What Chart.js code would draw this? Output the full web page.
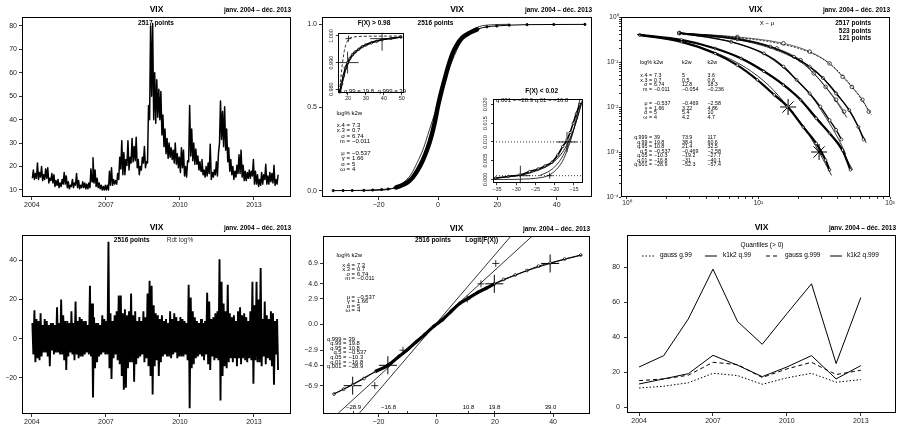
<!DOCTYPE html>
<html>
<head>
<meta charset="utf-8">
<script src="https://cdn.jsdelivr.net/npm/chart.js@4.4.1/dist/chart.umd.min.js"></script>
<style>
  body { margin: 0; background: #fff; }
  #wrap { position: relative; width: 899px; height: 426px; overflow: hidden; background: #fff; }
  #wrap canvas { position: absolute; }
</style>
</head>
<body>
<div id="wrap">
  <canvas id="c1" width="300" height="213" style="left:0px;top:0px"></canvas>
  <canvas id="c2" width="300" height="213" style="left:300px;top:0px"></canvas>
  <canvas id="ia" width="92" height="86" style="left:325px;top:20px"></canvas>
  <canvas id="ib" width="114" height="106" style="left:480px;top:88px"></canvas>
  <canvas id="c3" width="299" height="213" style="left:600px;top:0px"></canvas>
  <canvas id="c4" width="300" height="213" style="left:0px;top:213px"></canvas>
  <canvas id="c5" width="300" height="213" style="left:300px;top:213px"></canvas>
  <canvas id="c6" width="299" height="213" style="left:600px;top:213px"></canvas>
</div>
<script>
// ---------- data ----------
// VIX, monthly low / high, jan 2004 .. dec 2013
const vixLow = [
  15.0, 14.5, 15.0, 14.5, 15.5, 14.0, 14.5, 15.0, 13.0, 14.0, 13.0, 11.5,
  12.0, 11.0, 11.5, 12.5, 12.5, 11.0, 10.5, 11.5, 11.0, 12.0, 11.0, 10.5,
  11.0, 11.0, 10.5, 10.5, 11.0, 13.5, 13.0, 11.5, 11.0, 10.5, 10.0, 10.0,
  10.0, 10.0, 12.0, 12.0, 12.5, 12.5, 14.5, 19.0, 16.5, 16.5, 20.5, 18.5,
  21.5, 22.0, 22.5, 19.5, 16.5, 18.5, 21.5, 19.5, 21.5, 40.0, 50.0, 40.0,
  38.5, 41.0, 40.0, 33.5, 28.5, 25.5, 23.5, 24.0, 23.0, 21.5, 21.0, 19.5,
  17.5, 19.5, 16.0, 15.5, 22.0, 24.5, 22.5, 21.0, 21.0, 18.5, 18.0, 16.5,
  15.5, 16.0, 17.0, 14.5, 15.5, 16.5, 16.0, 30.0, 31.5, 28.5, 27.0, 22.0,
  18.0, 16.5, 14.5, 15.5, 17.0, 17.0, 15.5, 14.0, 14.0, 15.0, 15.0, 16.0,
  12.5, 12.5, 11.5, 12.0, 12.5, 14.5, 12.5, 12.5, 13.5, 13.0, 12.0, 12.5
];
const vixHigh = [
  18.5, 17.0, 21.5, 17.5, 20.0, 16.5, 19.0, 19.5, 15.0, 17.0, 16.5, 14.0,
  14.5, 13.0, 14.5, 17.5, 16.0, 13.5, 12.0, 14.5, 13.0, 17.0, 14.0, 12.0,
  13.5, 13.0, 12.5, 13.0, 19.0, 23.8, 18.5, 15.0, 13.0, 12.0, 11.5, 12.0,
  12.0, 18.0, 19.5, 14.5, 14.0, 17.0, 24.0, 31.0, 26.0, 23.0, 31.0, 24.0,
  32.0, 28.5, 32.5, 23.0, 20.0, 24.0, 28.5, 22.0, 46.0, 80.0, 81.0, 60.0,
  57.0, 53.0, 52.0, 42.0, 36.0, 32.0, 30.0, 28.0, 27.0, 30.0, 25.5, 24.0,
  28.0, 27.0, 20.0, 22.5, 46.0, 36.0, 30.0, 27.5, 24.5, 22.0, 23.0, 18.5,
  20.0, 21.5, 29.5, 17.5, 18.5, 22.0, 25.5, 48.0, 43.5, 45.5, 36.0, 28.0,
  23.0, 20.0, 18.0, 20.5, 25.0, 27.0, 20.5, 18.0, 17.5, 18.5, 18.0, 23.0,
  18.0, 16.5, 14.5, 17.5, 16.5, 21.0, 16.0, 17.5, 17.0, 20.5, 14.5, 16.5
];
// daily log returns (%), monthly high / low
const retHigh = [
  8, 14.5, 10, 9, 13, 7, 10, 9, 7, 8, 8, 7,
  16, 8, 20, 12, 9, 9, 8, 14, 8, 19, 9, 11,
  10, 9, 9, 7, 27, 18, 11, 8, 8, 7, 12, 10,
  9, 49.5, 13, 9, 12, 14, 22, 22, 13, 15, 12, 14,
  23, 12, 14, 9, 11, 9, 14, 11, 23, 29.5, 27, 17,
  13, 12, 10, 12, 9, 10, 8, 14, 10, 13, 11, 9,
  11, 10, 9, 8, 27.5, 21, 14, 11, 9, 8, 10, 8,
  9, 23.5, 19, 10, 11, 13, 14, 40.5, 29, 18, 14, 27.5,
  13, 11, 12, 9, 14, 16, 12, 13, 11, 9, 14, 29,
  17, 29, 20, 36, 10, 19, 12, 10, 14, 13, 9, 10
];
const retLow = [
  -8, -12, -10, -11, -9, -7, -7, -9, -14, -6, -8, -7,
  -7, -8, -8, -11, -16, -9, -7, -8, -11, -8, -10, -9,
  -9, -8, -7, -8, -9, -30, -15, -12, -9, -8, -7, -8,
  -8, -15, -20.5, -10, -8, -11, -13, -19, -26, -25, -15, -12,
  -12, -22, -13, -10, -9, -8, -12, -10, -14, -19, -28.5, -14,
  -11, -19, -12, -9, -8, -9, -9, -10, -8, -7, -10, -9,
  -9, -9, -8, -11, -35.5, -15, -13, -10, -9, -8, -9, -11,
  -8, -13, -16, -9, -11, -10, -11, -31.5, -19, -14, -15, -12,
  -10, -12, -10, -14, -10, -13, -10, -11, -12, -10, -11, -23,
  -11, -12, -12, -14, -9, -13, -10, -11, -14, -23.5, -8, -16
];

// distribution function (top middle)
const cdfEmpX = [-35.3, -32, -28.9, -25, -22, -19, -16.8, -14.5, -12.5, -10.3, -8.5, -6.8, -5.2, -3.6, -2.2, -1.1, 0, 1.2, 2.4, 3.5, 4.8, 6.3, 8.2, 10.8, 13.5, 16.5, 19.8, 24, 30, 39, 49.5];
const cdfEmpF = [0.0004, 0.0008, 0.001, 0.002, 0.004, 0.007, 0.01, 0.017, 0.03, 0.05, 0.08, 0.125, 0.18, 0.25, 0.33, 0.41, 0.51, 0.6, 0.68, 0.75, 0.82, 0.875, 0.92, 0.95, 0.972, 0.985, 0.99, 0.995, 0.998, 0.999, 0.9996];
const cdfGaussX = [-26, -20, -16, -13, -11, -9, -7, -5, -3, -1, 1, 3, 5, 7, 9, 11, 14, 18, 24];
const cdfGaussF = [0.0001, 0.002, 0.01, 0.03, 0.06, 0.1, 0.17, 0.25, 0.36, 0.47, 0.59, 0.7, 0.79, 0.87, 0.93, 0.96, 0.987, 0.997, 0.9999];
// upper tail inset
const upEmpX = [15.5, 16.5, 17.5, 18.5, 19.8, 21, 22.5, 24, 26, 28, 30, 33, 36, 39, 44, 49.5];
const upEmpF = [0.979, 0.982, 0.985, 0.988, 0.990, 0.9915, 0.993, 0.994, 0.995, 0.996, 0.9966, 0.9974, 0.998, 0.9986, 0.9991, 0.9996];
const upFitX = [15, 17, 19, 21, 24, 28, 32, 38, 44, 50];
const upFitF = [0.978, 0.984, 0.9885, 0.9915, 0.994, 0.9962, 0.9975, 0.9986, 0.9992, 0.9996];
const upFit2F = [0.976, 0.9825, 0.9875, 0.9908, 0.9936, 0.9958, 0.9972, 0.9984, 0.9991, 0.9995];
const upGaussX = [15, 16, 17, 18, 19, 20, 21, 23, 26, 30, 40, 50];
const upGaussF = [0.977, 0.984, 0.990, 0.9945, 0.997, 0.9985, 0.9992, 0.9996, 0.9998, 0.9999, 0.99995, 1.0];
// lower tail inset
const loEmpX = [-35.3, -32, -29, -26.5, -24.3, -22.5, -20.7, -19.2, -17.9, -16.8, -16, -15.2, -14.4, -13.5];
const loEmpF = [0.0004, 0.0008, 0.0012, 0.0021, 0.0028, 0.0036, 0.0046, 0.0065, 0.0088, 0.0105, 0.0125, 0.015, 0.0175, 0.02];
const loFitX = [-36, -32, -28, -25, -22, -20, -18, -16.5, -15, -13.5, -12.8];
const loFitF = [0.0003, 0.0007, 0.0013, 0.0022, 0.0035, 0.0049, 0.0072, 0.0099, 0.0136, 0.0185, 0.0212];
const loFit2X = [-24, -21, -19, -17.5, -16, -15, -14, -13.2];
const loFit2F = [0.001, 0.0025, 0.0045, 0.007, 0.0105, 0.0135, 0.017, 0.0205];
const loGaussX = [-36, -32, -28, -25, -22, -20, -18, -16.5, -15, -14, -13];
const loGaussF = [0, 0, 0.0001, 0.0003, 0.0009, 0.0022, 0.0048, 0.0085, 0.0135, 0.0185, 0.024];

// tails in log-log (top right): |X - mu| and survival probability
const dayNegX = [1.25, 2.6, 4.7, 6.9, 9.8, 13.2, 16.6, 21.9, 27.5, 32.4, 34.7];
const dayNegY = [0.4, 0.28, 0.155, 0.085, 0.04, 0.0186, 0.0102, 0.0036, 0.00155, 0.00066, 0.0004];
const dayPosX = [1.25, 2.6, 4.7, 7.4, 11, 15.5, 20.9, 27.5, 34.7, 43.6, 50];
const dayPosY = [0.4, 0.31, 0.2, 0.12, 0.062, 0.031, 0.0145, 0.0056, 0.0026, 0.0011, 0.0004];
const weekPosX = [2.5, 6.9, 12.3, 18.6, 24.5, 30.9, 38.9, 49, 57.5, 63];
const weekPosY = [0.44, 0.32, 0.22, 0.13, 0.079, 0.044, 0.02, 0.0085, 0.0036, 0.0019];
const weekNegX = [2.5, 6.2, 11, 15.5, 19.5, 24.5, 29.5, 34.7, 38.9, 42.7];
const weekNegY = [0.44, 0.28, 0.155, 0.079, 0.04, 0.02, 0.0102, 0.0051, 0.0031, 0.0019];
const monthPosX = [2.5, 6.9, 15.5, 24.5, 34.7, 43.6, 51.3, 61.7, 69];
const monthPosY = [0.44, 0.36, 0.26, 0.17, 0.093, 0.047, 0.028, 0.0145, 0.0079];
const monthNegX = [2.5, 6.9, 13.8, 20.9, 26.3, 32.4, 38.9, 44.7];
const monthNegY = [0.44, 0.34, 0.2, 0.11, 0.056, 0.028, 0.0145, 0.0079];
const dayFitNegX = [1.2, 2.5, 5, 8, 12, 16.8, 22, 28.9, 36];
const dayFitNegY = [0.41, 0.29, 0.15, 0.075, 0.03, 0.01, 0.0037, 0.001, 0.0003];
const dayFitPosX = [1.2, 2.5, 5, 8, 12, 17, 24, 32, 42, 52];
const dayFitPosY = [0.41, 0.31, 0.19, 0.11, 0.055, 0.026, 0.0095, 0.0035, 0.0012, 0.0004];
const weekFitPosX = [2.5, 7, 12, 18, 25, 32, 40, 50, 60, 66];
const weekFitPosY = [0.43, 0.31, 0.21, 0.13, 0.075, 0.04, 0.019, 0.0075, 0.0028, 0.0016];
const weekFitNegX = [2.5, 6, 11, 15, 20, 25, 30, 36, 42, 46];
const weekFitNegY = [0.43, 0.29, 0.15, 0.08, 0.037, 0.018, 0.0085, 0.0036, 0.0016, 0.0009];
const monthFitPosX = [2.5, 7, 15, 25, 35, 45, 55, 65, 72];
const monthFitPosY = [0.44, 0.35, 0.25, 0.16, 0.09, 0.045, 0.022, 0.011, 0.0068];
const monthFitNegX = [2.5, 7, 14, 21, 27, 33, 40, 47];
const monthFitNegY = [0.44, 0.33, 0.19, 0.10, 0.052, 0.026, 0.012, 0.0058];

// logit of the distribution (bottom middle)
const logitEmpX = [-35.3, -32, -28.9, -25, -21, -16.8, -13, -10.3, -7, -4, -1, 2, 5, 8, 10.8, 14, 17, 19.8, 23, 27, 31, 35, 39, 44, 49.5];
const logitEmpY = [-7.84, -7.3, -6.8, -6.1, -5.3, -4.6, -3.6, -2.9, -1.95, -1.1, -0.2, 0.55, 1.5, 2.4, 2.95, 3.6, 4.1, 4.6, 5.1, 5.6, 6.1, 6.6, 6.95, 7.4, 7.85];
const logitFitX = [-35.5, -30, -25, -20, -16.8, -12, -8, -4, 0, 4, 8, 12, 16, 20, 25, 30, 35, 40, 45, 50];
const logitFitY = [-7.85, -6.95, -6.0, -5.1, -4.5, -3.4, -2.3, -1.15, 0.05, 1.2, 2.35, 3.3, 4.0, 4.6, 5.3, 5.95, 6.5, 7.0, 7.45, 7.85];
const gaussLineAX = [-34.5, 33.2];
const gaussLineAY = [-10.2, 10.1];
const gaussLineBX = [-27.1, 25.8];
const gaussLineBY = [-10.2, 10.1];

// yearly quantiles (bottom right)
const years = [2004, 2005, 2006, 2007, 2008, 2009, 2010, 2011, 2012, 2013];
const gaussQ99 = [11, 12, 14, 19.4, 18.1, 13.1, 16.8, 19.4, 14.3, 15.8];
const k1k2Q99 = [13.3, 16.2, 19.2, 29.7, 24, 17.5, 23, 29.5, 16.2, 23.8];
const gaussQ999 = [15.2, 16.2, 18.3, 25.7, 24.4, 17, 21.9, 25.7, 18.7, 21.1];
const k1k2Q999 = [23, 29.5, 50.5, 79, 49, 36, 53.5, 70.6, 25, 62.7];

// fitted parameters and quantiles (log% k2w, daily / weekly / monthly)
const topRows = ['x.4', 'x.3', 'σ', 'm'];
const midRows = ['μ', 'γ', 'α', 'ω'];
const qRows = ['q.999', 'q.99', 'q.95', 'q.5', 'q.05', 'q.01', 'q.001'];
const dayTop = ['7.3', '0.7', '6.74', '−0.011'];
const weekTop = ['5', '0.5', '12.8', '−0.054'];
const monthTop = ['3.6', '0.6', '18.3', '−0.236'];
const dayMid = ['−0.537', '1.66', '5', '4'];
const weekMid = ['−0.469', '3.22', '5.4', '4.2'];
const monthMid = ['−2.58', '4.86', '10', '4.7'];
const qDay = [39, 19.8, 10.8, -0.537, -10.3, -16.8, -28.9];
const qWeek = [73.9, 38.4, 21.4, -0.469, -19.2, -31, -52.3];
const qMonth = [117, 60.6, 32.5, -2.58, -27.7, -40.1, -57.4];
const qProb = [0.999, 0.99, 0.95, 0.5, 0.05, 0.01, 0.001];
const qLogit = [6.9, 4.6, 2.9, 0, -2.9, -4.6, -6.9];
const qGauss = [20.3, 15.2, 10.5, -0.54, -11.6, -16.2, -21.3];

// tick labels
const yearTicks = [2004, 2007, 2010, 2013];
const vixTicks = [10, 20, 30, 40, 50, 60, 70, 80];
const retTicks = [-20, 0, 20, 40];
const cdfXTicks = [-20, 0, 20, 40];
const cdfYTicks = [0, 0.5, 1];
const cdfYLabels = ['0.0', '0.5', '1.0'];
const upXTicks = [20, 30, 40, 50];
const upYTicks = [0.98, 0.99, 1.0];
const upYLabels = ['0.980', '0.990', '1.000'];
const loXTicks = [-35, -30, -25, -20, -15];
const loYTicks = [0, 0.005, 0.01, 0.015, 0.02];
const loYLabels = ['0.000', '0.005', '0.010', '0.015', '0.020'];
const quantTicks = [0, 20, 40, 60, 80];
const logitLabels = ['−6.9', '−4.6', '−2.9', '0.0', '2.9', '4.6', '6.9'];
const logitTicks = [-6.9, -4.6, -2.9, 0, 2.9, 4.6, 6.9];
const decadesX = [1, 10, 100];
const decadesY = [0.0001, 0.001, 0.01, 0.1, 1];
const supLabels = { '1': '10⁰', '10': '10¹', '100': '10²', '0.1': '10⁻¹', '0.01': '10⁻²', '0.001': '10⁻³', '0.0001': '10⁻⁴' };

const PERIOD = 'janv. 2004 – déc. 2013';
const FONT = "'Liberation Sans', Arial, Helvetica, sans-serif";

// ---------- helpers ----------
function minus(v) { return String(v).replace('-', '\u2212'); }
function pts(xs, ys) { return xs.map((x, i) => ({ x: x, y: ys[i] })); }

function line(data, w, dash, extra) {
    return Object.assign({
        data: data, showLine: true, borderColor: '#000', borderWidth: w, borderDash: dash || [],
        pointRadius: 0, pointHoverRadius: 0, fill: false, tension: 0
    }, extra || {});
}
function marks(data, style, r, extra) {
    return Object.assign({
        data: data, showLine: false, pointStyle: style, pointRadius: r, pointHoverRadius: r,
        borderColor: '#000', pointBorderColor: '#000', pointBackgroundColor: 'rgba(0,0,0,0)', pointBorderWidth: 0.8
    }, extra || {});
}

function scale(type, min, max, ticks, labelFn, size, horizontal, o) {
    o = o || {};
    return {
        type: type, min: min, max: max,
        grid: { display: true, drawOnChartArea: false, drawTicks: true, tickLength: o.tl || 3, color: '#000', lineWidth: 0.8 },
        border: { display: false },
        ticks: {
            font: { size: o.fs || 7, family: FONT }, color: '#222', padding: o.pad !== undefined ? o.pad : (horizontal ? 1 : 2),
            autoSkip: false, maxRotation: 0, minRotation: 0,
            callback: function (v) { return labelFn(v); }
        },
        afterBuildTicks: function (sc) { sc.ticks = ticks.map(v => ({ value: v })); },
        afterFit: function (sc) { if (horizontal) { sc.height = size; } else { sc.width = size; } }
    };
}
function lab(ticks, labels) {
    return function (v) { const k = ticks.indexOf(v); return k >= 0 ? (labels ? labels[k] : minus(v)) : ''; };
}

// text blocks such as "x.4 = 7.3"
function statBlock(rows, cols, y0, dy, eqX, colX, size) {
    const out = [];
    rows.forEach((r, i) => {
        const y = y0 + i * dy;
        out.push({ t: r + ' =', x: eqX, y: y, a: 'right', s: size });
        cols.forEach((c, j) => out.push({ t: c[i], x: colX[j], y: y, a: 'left', s: size }));
    });
    return out;
}

const decos = {};
const rdeco = {
    id: 'rdeco',
    beforeDraw(chart) {
        const d = decos[chart.canvas.id];
        if (d && d.white) {
            const a = chart.chartArea, ctx = chart.ctx;
            ctx.save();
            ctx.fillStyle = '#fff';
            ctx.fillRect(a.left, a.top, a.right - a.left, a.bottom - a.top);
            ctx.restore();
        }
    },
    afterDraw(chart) {
        const d = decos[chart.canvas.id] || {};
        const ctx = chart.ctx, a = chart.chartArea;
        const ox = chart.canvas.offsetLeft, oy = chart.canvas.offsetTop;
        ctx.save();
        ctx.strokeStyle = '#000';
        ctx.lineWidth = 1;
        ctx.strokeRect(Math.round(a.left) + 0.5, Math.round(a.top) + 0.5, Math.round(a.right - a.left) - 1, Math.round(a.bottom - a.top) - 1);
        ctx.textBaseline = 'middle';
        if (d.title) {
            const cy = a.top - 7;
            ctx.fillStyle = '#000';
            ctx.font = 'bold 8.5px ' + FONT;
            ctx.textAlign = 'center';
            ctx.fillText(d.title, (a.left + a.right) / 2, cy);
            ctx.font = 'bold 6.5px ' + FONT;
            ctx.textAlign = 'right';
            ctx.fillText(PERIOD, a.right, cy);
        }
        if (d.vlab) {
            const sy = chart.scales.y;
            ctx.font = '5.5px ' + FONT;
            ctx.fillStyle = '#222';
            ctx.textAlign = 'center';
            d.vlab.vals.forEach((v, i) => {
                ctx.save();
                ctx.translate(a.left - d.vlab.dx, sy.getPixelForValue(v));
                ctx.rotate(-Math.PI / 2);
                ctx.fillText(d.vlab.labels[i], 0, 0);
                ctx.restore();
            });
        }
        if (d.rug) {
            const sx = chart.scales.x;
            ctx.font = '6px ' + FONT;
            ctx.fillStyle = '#000';
            ctx.textAlign = 'center';
            ctx.lineWidth = 0.8;
            d.rug.vals.forEach((v, i) => {
                const px = Math.round(sx.getPixelForValue(v)) + 0.5;
                ctx.beginPath();
                ctx.moveTo(px, a.bottom);
                ctx.lineTo(px, a.bottom - 3);
                ctx.stroke();
                if (d.rug.labels[i]) { ctx.fillText(d.rug.labels[i], px, d.rug.y - oy); }
            });
        }
        if (d.legend) {
            const L = d.legend;
            ctx.fillStyle = '#000';
            ctx.font = '6.5px ' + FONT;
            ctx.textAlign = 'center';
            ctx.fillText(L.title, L.tx - ox, L.ty - oy);
            ctx.textAlign = 'left';
            L.items.forEach((it, i) => {
                const ds = chart.data.datasets[i];
                ctx.save();
                ctx.lineWidth = ds.borderWidth;
                ctx.setLineDash(ds.borderDash || []);
                ctx.beginPath();
                ctx.moveTo(it.x0 - ox, L.y - oy + 0.5);
                ctx.lineTo(it.x1 - ox, L.y - oy + 0.5);
                ctx.stroke();
                ctx.restore();
                ctx.fillText(ds.label, it.tx - ox, L.y - oy);
            });
        }
        (d.texts || []).forEach(t => {
            ctx.font = (t.b ? 'bold ' : '') + (t.s || 6.5) + 'px ' + FONT;
            ctx.fillStyle = t.c || '#000';
            ctx.textAlign = t.a || 'left';
            ctx.fillText(t.t, t.x - ox, t.y - oy);
        });
        ctx.restore();
    }
};

function makeChart(id, datasets, xScale, yScale, pad) {
    return new Chart(document.getElementById(id), {
        type: 'scatter',
        data: { datasets: datasets },
        options: {
            responsive: false, animation: false, events: [],
            layout: { padding: { left: 0, top: pad[0], right: pad[1], bottom: 0 } },
            plugins: { legend: { display: false }, tooltip: { enabled: false } },
            scales: { x: xScale, y: yScale }
        },
        plugins: [rdeco]
    });
}

// ---------- panel 1 : VIX level ----------
const vixPts = [];
vixLow.forEach((lo, i) => {
    const t = 2004 + i / 12;
    vixPts.push({ x: t + 0.02, y: lo }, { x: t + 0.06, y: vixHigh[i] });
});
decos.c1 = { title: 'VIX', texts: [{ t: '2517 points', x: 156, y: 23.5, a: 'center', b: true }] };
makeChart('c1', [line(vixPts, 1.5, [], { borderJoinStyle: 'round' })],
    scale('linear', 2003.6, 2014.5, yearTicks, lab(yearTicks), 16, true),
    scale('linear', 7, 83.8, vixTicks, lab(vixTicks), 22, false), [17, 9]);

// ---------- panel 4 : returns ----------
const retPts = [];
retLow.forEach((lo, i) => {
    const t = 2004 + i / 12;
    retPts.push({ x: t + 0.02, y: retHigh[i] }, { x: t + 0.06, y: lo });
});
decos.c4 = { title: 'VIX', texts: [
    { t: '2516 points', x: 131.7, y: 240.5, a: 'center', b: true },
    { t: 'Rdt log%', x: 180, y: 240.5, a: 'center', c: '#333' }
] };
makeChart('c4', [line(retPts, 1.9)],
    scale('linear', 2003.6, 2014.5, yearTicks, lab(yearTicks), 12, true),
    scale('linear', -38.4, 52.9, retTicks, lab(retTicks), 22, false), [22, 9]);

// ---------- panel 2 : distribution function ----------
const cdfEmp = pts(cdfEmpX, cdfEmpF);
decos.c2 = { title: 'VIX', texts: [
    { t: '2516 points', x: 435.5, y: 23.5, a: 'center', b: true },
    { t: 'log% k2w', x: 336.5, y: 113, s: 6 }
].concat(statBlock(topRows, [dayTop], 125, 5.5, 350, [352], 6))
 .concat(statBlock(midRows, [dayMid], 153, 5.5, 350, [352], 6)) };
makeChart('c2', [
    line(pts(cdfGaussX, cdfGaussF), 0.8, [], { cubicInterpolationMode: 'monotone' }),
    line(cdfEmp.filter(p => p.y > 0.015 && p.y < 0.985), 4.5, [], { cubicInterpolationMode: 'monotone' }),
    line(cdfEmp, 1, [], { pointRadius: 1.1, pointBackgroundColor: '#000', pointBorderColor: '#000', cubicInterpolationMode: 'monotone' })
], scale('linear', -39.1, 51.9, cdfXTicks, lab(cdfXTicks), 16, true),
   scale('linear', -0.038, 1.044, cdfYTicks, lab(cdfYTicks, cdfYLabels), 22, false), [17, 8]);

// inset : upper tail
decos.ia = { white: true, vlab: { vals: upYTicks, labels: upYLabels, dx: 6 }, texts: [
    { t: 'F(X) > 0.98', x: 374, y: 23, a: 'center', b: true, s: 6.5 },
    { t: 'q.99 = ' + qDay[1] + '  q.999 = ' + qDay[0], x: 375, y: 91.5, a: 'center', s: 6 }
] };
makeChart('ia', [
    line(pts(upGaussX, upGaussF), 0.8, [3, 2], { cubicInterpolationMode: 'monotone' }),
    line(pts(upFitX, upFitF), 0.8, [], { cubicInterpolationMode: 'monotone' }),
    line(pts(upFitX, upFit2F), 0.8, [], { cubicInterpolationMode: 'monotone' }),
    line(pts(upEmpX, upEmpF), 1.6, [], { pointRadius: 1.2, pointStyle: 'circle', pointBorderColor: '#000', pointBorderWidth: 0.8, pointBackgroundColor: '#fff', cubicInterpolationMode: 'monotone' }),
    marks([{ x: qDay[1], y: qProb[1] }], 'cross', 11),
    marks([{ x: qDay[0], y: qProb[0] }], 'cross', 12),
    marks([{ x: qGauss[0], y: qProb[0] }], 'cross', 3)
], scale('linear', 14.35, 51.3, upXTicks, lab(upXTicks), 8, true, { tl: 2, pad: 0, fs: 5.5 }),
   scale('linear', 0.9785, 1.0012, upYTicks, () => '', 12, false, { tl: 2, fs: 5.5 }), [8, 6]);

// inset : lower tail
decos.ib = { white: true, vlab: { vals: loYTicks, labels: loYLabels, dx: 7.5 }, texts: [
    { t: 'F(X) < 0.02', x: 541.7, y: 91, a: 'center', b: true, s: 6.5 },
    { t: 'q.001 = ' + minus(qDay[6]) + ' q.01 = ' + minus(qDay[5]), x: 496, y: 100.5, s: 6 }
] };
makeChart('ib', [
    line([{ x: -36, y: qProb[5] }, { x: -12.6, y: qProb[5] }], 0.8, [1, 2]),
    line([{ x: -36, y: qProb[6] }, { x: -12.6, y: qProb[6] }], 0.8, [1, 2]),
    line(pts(loGaussX, loGaussF), 0.8, [], { cubicInterpolationMode: 'monotone' }),
    line(pts(loFitX, loFitF), 0.9, [], { cubicInterpolationMode: 'monotone' }),
    line(pts(loFit2X, loFit2F), 0.8, [], { cubicInterpolationMode: 'monotone' }),
    line(pts(loEmpX, loEmpF), 1.6, [], { pointRadius: 1.2, pointStyle: 'circle', pointBorderColor: '#000', pointBorderWidth: 0.8, pointBackgroundColor: '#fff', cubicInterpolationMode: 'monotone' }),
    marks([{ x: qDay[6], y: qProb[6] }, { x: qDay[5], y: qProb[5] }], 'cross', 10),
    marks([{ x: qGauss[6], y: qProb[6] }], 'cross', 3)
], scale('linear', -36, -12.6, loXTicks, lab(loXTicks), 10, true, { tl: 2, pad: 0.5, fs: 5.5 }),
   scale('linear', -0.001, 0.0215, loYTicks, () => '', 13, false, { tl: 2, fs: 5.5 }), [7, 4]);

// ---------- panel 3 : tails, log-log ----------
const logXTicks = [], logYTicks = [];
decadesX.forEach(d => { for (let m = 1; m <= 9; m++) { if (m * d <= 100) { logXTicks.push(m === 1 ? d : m * d); } } });
decadesY.forEach(d => { for (let m = 1; m <= 9; m++) { if (m * d <= 1) { logYTicks.push(m === 1 ? d : m * d); } } });
const supLab = v => supLabels[String(v)] || '';
const openPt = (r, w) => ({ pointRadius: r, pointStyle: 'circle', pointBorderColor: '#000', pointBorderWidth: 0.7, pointBackgroundColor: '#fff', cubicInterpolationMode: 'monotone', borderWidth: w });
decos.c3 = { title: 'VIX', texts: [
    { t: 'X − μ', x: 767, y: 23.5, a: 'center', s: 6 },
    { t: '2517 points', x: 871, y: 23.5, a: 'right', b: true },
    { t: '523 points', x: 871, y: 31, a: 'right', b: true },
    { t: '121 points', x: 871, y: 38.5, a: 'right', b: true },
    { t: 'log% k2w', x: 640, y: 63, s: 5.4 },
    { t: 'k2w', x: 682, y: 63, s: 5.4 },
    { t: 'k2w', x: 707.5, y: 63, s: 5.4 }
].concat(statBlock(topRows, [dayTop, weekTop, monthTop], 76, 4.5, 652, [654, 682, 707.5], 5.3))
 .concat(statBlock(midRows, [dayMid, weekMid, monthMid], 104, 4.5, 652, [654, 682, 707.5], 5.3))
 .concat(statBlock(qRows, [qDay.map(minus), qWeek.map(minus), qMonth.map(minus)], 138, 4.5, 652, [654, 682, 707.5], 5.3)) };
makeChart('c3', [
    line(pts(dayFitNegX, dayFitNegY), 0.8, [], { cubicInterpolationMode: 'monotone' }),
    line(pts(dayFitPosX, dayFitPosY), 0.8, [], { cubicInterpolationMode: 'monotone' }),
    line(pts(weekFitNegX, weekFitNegY), 0.8, [], { cubicInterpolationMode: 'monotone' }),
    line(pts(weekFitPosX, weekFitPosY), 0.8, [], { cubicInterpolationMode: 'monotone' }),
    line(pts(monthFitNegX, monthFitNegY), 0.8, [], { cubicInterpolationMode: 'monotone' }),
    line(pts(monthFitPosX, monthFitPosY), 0.8, [2, 1.5], { cubicInterpolationMode: 'monotone' }),
    line(pts(dayNegX, dayNegY), 2.2, [], openPt(1.3, 2.2)),
    line(pts(dayPosX, dayPosY), 2.2, [], openPt(1.3, 2.2)),
    line(pts(weekNegX, weekNegY), 1.4, [], openPt(1.5, 1.4)),
    line(pts(weekPosX, weekPosY), 1.4, [], openPt(1.5, 1.4)),
    line(pts(monthNegX, monthNegY), 0.6, [], openPt(1.8, 0.6)),
    line(pts(monthPosX, monthPosY), 0.6, [], openPt(1.8, 0.6)),
    marks([{ x: -qDay[5], y: qProb[5] }, { x: -qDay[6], y: qProb[6] }], 'star', 8, { pointBorderWidth: 1 })
], scale('logarithmic', 0.902, 100, logXTicks, supLab, 16, true, { tl: 2, pad: 0, fs: 6.5 }),
   scale('logarithmic', 0.0001, 1, logYTicks, supLab, 21, false, { tl: 2, pad: 0.5, fs: 6.5 }), [17, 4]);

// ---------- panel 5 : logit ----------
const logitEmp = pts(logitEmpX, logitEmpY);
decos.c5 = { title: 'VIX',
    rug: { vals: [qDay[6], qDay[5], qDay[4], qDay[2], qDay[1], qDay[0]], labels: ['−28.9', '−16.8', '', '10.8', '19.8', '39.0'], y: 407.5 },
    texts: [
    { t: '2516 points', x: 433, y: 240.5, a: 'center', b: true },
    { t: 'Logit(F(X))', x: 481.7, y: 240.5, a: 'center', b: true },
    { t: 'log% k2w', x: 336.5, y: 255, s: 6 }
].concat(statBlock(topRows, [dayTop], 265, 4.5, 355, [357], 5.8))
 .concat(statBlock(midRows, [dayMid], 297, 4.5, 355, [357], 5.8))
 .concat(statBlock(qRows, [qDay.map(minus)], 339, 4.6, 346.5, [348.5], 5.8)) };
makeChart('c5', [
    line(pts(gaussLineAX, gaussLineAY), 0.8, [], { clip: 0 }),
    line(pts(gaussLineBX, gaussLineBY), 0.8, [], { clip: 0 }),
    line(pts(logitFitX, logitFitY), 0.9, [], { cubicInterpolationMode: 'monotone' }),
    line(logitEmp.filter(p => p.x > -22 && p.x < 22), 3.2, [], { cubicInterpolationMode: 'monotone' }),
    line(logitEmp, 1, [], openPt(1.4, 1)),
    marks([0, 1, 5, 6].map(k => ({ x: qDay[k], y: qLogit[k] })), 'cross', 9, { pointBorderWidth: 1 }),
    marks([0, 1, 2, 4, 6].map(k => ({ x: qGauss[k], y: qLogit[k] })), 'cross', 3.5)
], scale('linear', -39.1, 52.7, cdfXTicks, lab(cdfXTicks), 12, true),
   scale('linear', -10.1, 10.0, logitTicks, lab(logitTicks, logitLabels), 23, false), [23, 8]);

// ---------- panel 6 : yearly quantiles ----------
decos.c6 = { title: 'VIX', legend: {
    title: 'Quantiles (> 0)', tx: 762, ty: 245.5, y: 255.5,
    items: [{ x0: 642, x1: 654, tx: 660 }, { x0: 705, x1: 717, tx: 723 }, { x0: 766, x1: 778, tx: 785 }, { x0: 830, x1: 842, tx: 847 }]
} };
makeChart('c6', [
    line(pts(years, gaussQ99), 1, [1.5, 2], { label: 'gauss g.99' }),
    line(pts(years, k1k2Q99), 1, [], { label: 'k1k2 q.99' }),
    line(pts(years, gaussQ999), 1, [4, 3], { label: 'gauss g.999' }),
    line(pts(years, k1k2Q999), 1, [], { label: 'k1k2 q.999' })
], scale('linear', 2003.51, 2014.43, yearTicks, lab(yearTicks), 13, true),
   scale('linear', -3.3, 98.5, quantTicks, lab(quantTicks), 27, false, { pad: 4 }), [22, 3]);
</script>
</body>
</html>
